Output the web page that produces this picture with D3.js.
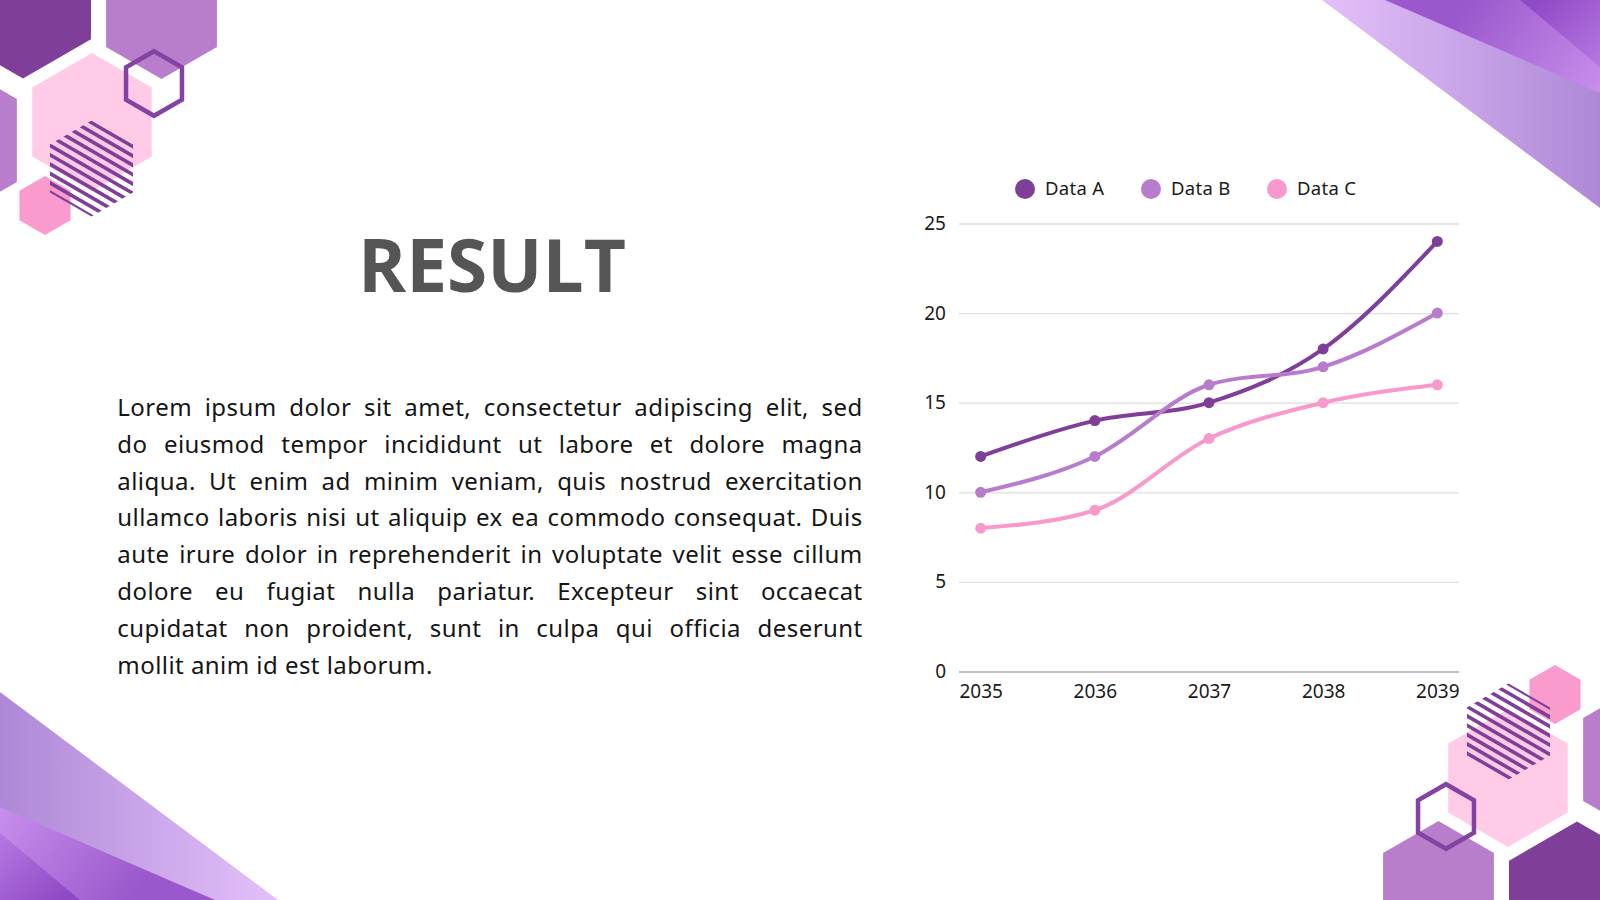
<!DOCTYPE html>
<html>
<head>
<meta charset="utf-8">
<script src="https://cdn.jsdelivr.net/npm/d3@7"></script>
<style>
  html, body { margin: 0; padding: 0; background: #fff; }
  svg { display: block; }
</style>
</head>
<body>
<div id="chart"></div>
<script>
// chart data
const years = ["2035", "2036", "2037", "2038", "2039"];
const seriesNames = ["Data A", "Data B", "Data C"];
const dataA = [12, 14, 15, 18, 24];
const dataB = [10, 12, 16, 17, 20];
const dataC = [8, 9, 13, 15, 16];
const yTicks = [0, 5, 10, 15, 20, 25];
const seriesColors = ["#7f3f98", "#b77dcc", "#f79acb"];

const titleText = "RESULT";
const paragraphLines = [
  "Lorem ipsum dolor sit amet, consectetur adipiscing elit, sed",
  "do eiusmod tempor incididunt ut labore et dolore magna",
  "aliqua. Ut enim ad minim veniam, quis nostrud exercitation",
  "ullamco laboris nisi ut aliquip ex ea commodo consequat. Duis",
  "aute irure dolor in reprehenderit in voluptate velit esse cillum",
  "dolore eu fugiat nulla pariatur. Excepteur sint occaecat",
  "cupidatat non proident, sunt in culpa qui officia deserunt",
  "mollit anim id est laborum."
];

const series = seriesNames.map((name, i) => ({
  name: name,
  color: seriesColors[i],
  values: [dataA, dataB, dataC][i].map((v, j) => ({ year: years[j], value: v }))
}));

const W = 1600, H = 900;

const svg = d3.select("#chart")
  .append("svg")
  .attr("width", W)
  .attr("height", H);

const defs = svg.append("defs");

function addGradient(id, x1, y1, x2, y2, c1, c2) {
  const g = defs.append("linearGradient")
    .attr("id", id)
    .attr("gradientUnits", "userSpaceOnUse")
    .attr("x1", x1).attr("y1", y1).attr("x2", x2).attr("y2", y2);
  g.append("stop").attr("offset", "0%").attr("stop-color", c1);
  g.append("stop").attr("offset", "100%").attr("stop-color", c2);
}
addGradient("triBig", 1322, 0, 1600, 0, "#e4c0fa", "#ae88d6");
addGradient("triMid", 1470, 0, 1600, 100, "#9a58cc", "#c990ed");
addGradient("triTop", 1540, 0, 1600, 70, "#8c44c2", "#b676e2");

function hexPoints(cx, cy, r) {
  return d3.range(6).map(i => {
    const a = (-90 + 60 * i) * Math.PI / 180;
    return [cx + r * Math.cos(a), cy + r * Math.sin(a)];
  });
}

// stripe clip (pointy-top hexagon)
defs.append("clipPath")
  .attr("id", "stripeClip")
  .append("polygon")
  .attr("points", hexPoints(91.5, 168.5, 48).join(" "));

// corner decoration, drawn once and again turned 180 degrees
function decor(g) {
  // triangles at the top right
  g.append("polygon").attr("points", "1322,0 1600,0 1600,208").attr("fill", "url(#triBig)");
  g.append("polygon").attr("points", "1385,0 1600,0 1600,93").attr("fill", "url(#triMid)");
  g.append("polygon").attr("points", "1520,0 1600,0 1600,67").attr("fill", "url(#triTop)").attr("opacity", 0.85);

  // hexagons at the top left
  const hexes = [
    { cx: 23, cy: 0, r: 78.5, fill: "#7f3f98" },
    { cx: 161.5, cy: 15, r: 64, fill: "#b97ecb" },
    { cx: -55, cy: 140.5, r: 83, fill: "#b97ecb" },
    { cx: 92, cy: 122, r: 69, fill: "#ffcbe6" },
    { cx: 45, cy: 205.5, r: 29.5, fill: "#f99bcd" }
  ];
  g.selectAll(null)
    .data(hexes)
    .enter()
    .append("polygon")
    .attr("points", d => hexPoints(d.cx, d.cy, d.r).join(" "))
    .attr("fill", d => d.fill);

  // striped hexagon
  const sg = g.append("g").attr("clip-path", "url(#stripeClip)")
    .append("g")
    .attr("transform", "translate(91.5,168.5) rotate(30)");
  sg.selectAll("line")
    .data(d3.range(-39.7, 41.5, 8.1))
    .enter()
    .append("line")
    .attr("x1", -90).attr("x2", 90)
    .attr("y1", d => d).attr("y2", d => d)
    .attr("stroke", "#7f3f98")
    .attr("stroke-width", 3.6);

  // outlined hexagon
  g.append("polygon")
    .attr("points", hexPoints(154, 83.5, 32.3).join(" "))
    .attr("fill", "none")
    .attr("stroke", "#8443a0")
    .attr("stroke-width", 4.5);
}
decor(svg.append("g"));
decor(svg.append("g").attr("transform", "rotate(180 800 450)"));

// title
svg.append("text")
  .attr("x", 492)
  .attr("y", 291.7)
  .attr("text-anchor", "middle")
  .attr("font-family", "'Open Sans', sans-serif")
  .attr("font-weight", 700)
  .attr("font-size", 73)
  .attr("fill", "#555555")
  .text(titleText);

// justified paragraph
const para = svg.append("g")
  .attr("font-family", "'Noto Sans', sans-serif")
  .attr("font-size", 24)
  .attr("letter-spacing", 0.45)
  .attr("fill", "#151515");

function measure(str) {
  const t = para.append("text").text(str);
  const w = t.node().getComputedTextLength();
  t.remove();
  return w;
}
const spaceW = measure("a b") - measure("ab");
const paraLeft = 117.3, paraRight = 862.7;

paragraphLines.forEach((line, i) => {
  const words = line.split(" ");
  const yb = 416 + i * 36.8;
  const texts = para.selectAll(null)
    .data(words)
    .enter()
    .append("text")
    .attr("y", yb)
    .text(d => d);
  const widths = texts.nodes().map(n => n.getComputedTextLength());
  const isLast = i === paragraphLines.length - 1;
  const gap = isLast ? spaceW : (paraRight - paraLeft - d3.sum(widths)) / (words.length - 1);
  let cx = paraLeft;
  texts.attr("x", (d, j) => {
    const v = cx;
    cx += widths[j] + gap;
    return v;
  });
});

// line chart
const x = d3.scalePoint()
  .domain(years)
  .range([959, 1459])
  .padding(0.19);

const y = d3.scaleLinear()
  .domain([0, 25])
  .range([671.5, 223.5]);

const chart = svg.append("g")
  .attr("font-family", "'Noto Sans', sans-serif");

const yAxis = chart.append("g")
  .attr("transform", "translate(959,0)")
  .call(d3.axisLeft(y).tickValues(yTicks).tickSize(-500).tickPadding(13));
yAxis.select(".domain").remove();
yAxis.selectAll(".tick line")
  .attr("stroke", d => d === 0 ? "#a9a9a9" : "#dedede")
  .attr("stroke-width", 1.3);
yAxis.selectAll(".tick text")
  .attr("font-family", "'Noto Sans', sans-serif")
  .attr("font-size", 19)
  .attr("fill", "#1a1a1a");

const xAxis = chart.append("g")
  .attr("transform", `translate(0,${y(0)})`)
  .call(d3.axisBottom(x).tickSize(0).tickPadding(13));
xAxis.select(".domain").remove();
xAxis.selectAll(".tick text")
  .attr("font-family", "'Noto Sans', sans-serif")
  .attr("font-size", 19)
  .attr("fill", "#1a1a1a");

const line = d3.line()
  .x(d => x(d.year))
  .y(d => y(d.value))
  .curve(d3.curveMonotoneX);

const sg = chart.selectAll(".series")
  .data(series)
  .enter()
  .append("g")
  .attr("class", "series");

sg.append("path")
  .attr("d", d => line(d.values))
  .attr("fill", "none")
  .attr("stroke", d => d.color)
  .attr("stroke-width", 4)
  .attr("stroke-linecap", "round");

sg.selectAll("circle")
  .data(d => d.values.map(v => ({ ...v, color: d.color })))
  .enter()
  .append("circle")
  .attr("cx", d => x(d.year))
  .attr("cy", d => y(d.value))
  .attr("r", 5.5)
  .attr("fill", d => d.color);

// legend
const legend = chart.append("g")
  .attr("transform", "translate(1025,189)");
const li = legend.selectAll("g")
  .data(series)
  .enter()
  .append("g")
  .attr("transform", (d, i) => `translate(${i * 126},0)`);
li.append("circle")
  .attr("r", 10)
  .attr("fill", d => d.color);
li.append("text")
  .attr("x", 20)
  .attr("dy", "0.35em")
  .attr("font-size", 18.5)
  .attr("letter-spacing", 0.3)
  .attr("fill", "#1a1a1a")
  .text(d => d.name);
</script>
</body>
</html>
